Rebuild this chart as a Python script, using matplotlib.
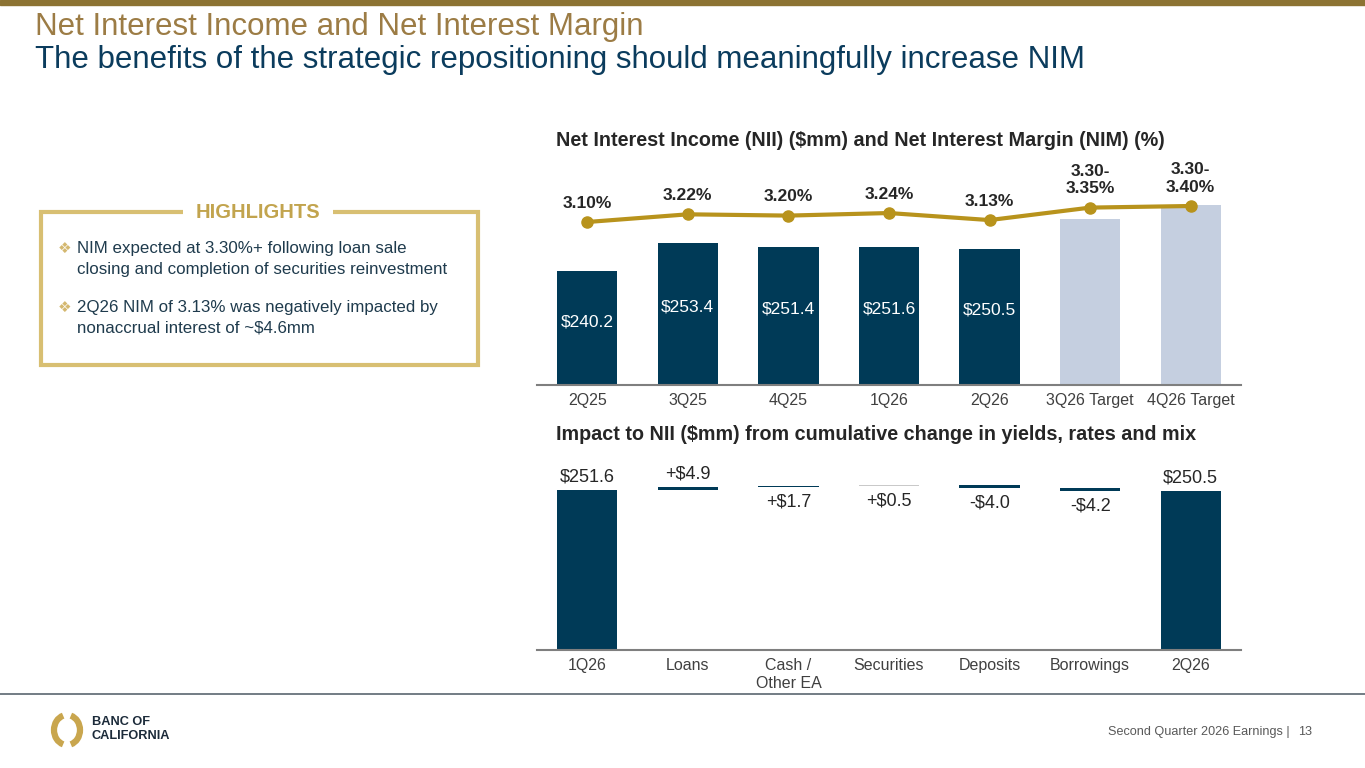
import numpy as np
import matplotlib.pyplot as plt
from matplotlib.patches import Rectangle, Arc

plt.rcParams['font.family'] = ['Liberation Sans', 'DejaVu Sans']

# Data
quarters = ['2Q25', '3Q25', '4Q25', '1Q26', '2Q26', '3Q26 Target', '4Q26 Target']
nii = [240.2, 253.4, 251.4, 251.6, 250.5, 264.7, 271.3]      # targets
nii_labels = ['$240.2', '$253.4', '$251.4', '$251.6', '$250.5', '', '']
nim = [3.10, 3.22, 3.20, 3.24, 3.13, 3.325, 3.35]           # targets drawn at midpoint of range
nim_labels = ['3.10%', '3.22%', '3.20%', '3.24%', '3.13%', '3.30-\n3.35%', '3.30-\n3.40%']
is_target = [False, False, False, False, False, True, True]

wf_cats = ['1Q26', 'Loans', 'Cash /\nOther EA', 'Securities', 'Deposits', 'Borrowings', '2Q26']
wf_start = 251.6
wf_deltas = [4.9, 1.7, 0.5, -4.0, -4.2]
wf_end = 250.5
wf_labels = ['$251.6', '+$4.9', '+$1.7', '+$0.5', '-$4.0', '-$4.2', '$250.5']

NAVY = '#003A57'
LIGHT = '#C5CFE0'
GOLD_LINE = '#B8931C'
TITLE_GOLD = '#9C7C45'
BOX_GOLD = '#D8BF72'
TXT = '#262626'

W, H = 1365, 768
fig = plt.figure(figsize=(W / 100, H / 100), dpi=100)


def fx(x):
    return x / W


def fy(y):
    return 1 - y / H


# top gold band and footer rule
fig.patches.append(Rectangle((0, fy(5)), 1, 5 / H, transform=fig.transFigure,
                             color='#8C7333', zorder=5))
fig.add_artist(plt.Line2D([0, 1], [fy(694), fy(694)], color='#5A6670', lw=1.2))

# titles
fig.text(fx(35), fy(27), 'Net Interest Income and Net Interest Margin', fontsize=22.5,
         color=TITLE_GOLD, va='center')
fig.text(fx(35), fy(60), 'The benefits of the strategic repositioning should meaningfully increase NIM',
         fontsize=22.5, color='#0B3C5D', va='center')

# ---- top chart: NII bars + NIM line ----
ax = fig.add_axes([fx(537), fy(385), fx(704), 235 / H])
x = np.arange(len(quarters))
colors = [LIGHT if t else NAVY for t in is_target]
ax.bar(x, nii, width=0.6, color=colors, zorder=2)
ybot = 186.4
ax.set_ylim(ybot, 297.2)
ax.set_xlim(-0.5, len(quarters) - 0.5)
for xi, v, lab in zip(x, nii, nii_labels):
    if lab:
        ax.text(xi, ybot + 0.55 * (v - ybot), lab, ha='center', va='center',
                color='white', fontsize=12.5)
for s in ['top', 'left', 'right']:
    ax.spines[s].set_visible(False)
ax.spines['bottom'].set_color('#7F7F7F')
ax.spines['bottom'].set_linewidth(1.5)
ax.set_yticks([])
ax.set_xticks(x)
ax.set_xticklabels(quarters, fontsize=11.5, color='#404040')
ax.tick_params(axis='x', length=0, pad=6)

ax2 = ax.twinx()
ax2.plot(x, nim, color=GOLD_LINE, lw=3, marker='o', ms=8, zorder=3)
ax2.set_ylim(0.553, 4.225)
ax2.set_yticks([])
for s in ax2.spines.values():
    s.set_visible(False)
for xi, v, lab in zip(x, nim, nim_labels):
    ax2.annotate(lab, (xi, v), xytext=(0, 8), textcoords='offset points',
                 ha='center', va='bottom', fontsize=12.5, fontweight='bold', color=TXT)

fig.text(fx(556), fy(140), 'Net Interest Income (NII) ($mm) and Net Interest Margin (NIM) (%)',
         fontsize=14.2, fontweight='bold', color=TXT, va='center')

# ---- bottom chart: waterfall ----
bx = fig.add_axes([fx(537), fy(650), fx(704), 190 / H])
steps = np.cumsum([wf_start] + wf_deltas)
bottoms = [0] + [min(steps[i], steps[i + 1]) for i in range(len(wf_deltas))] + [0]
heights = [wf_start] + [abs(d) for d in wf_deltas] + [wf_end]
wf_colors = [NAVY, NAVY, NAVY, '#C9C9C9', NAVY, NAVY, NAVY]
xw = np.arange(len(wf_cats))
bx.bar(xw, heights, bottom=bottoms, width=0.6, color=wf_colors)
bx.set_ylim(0, 298.7)
bx.set_xlim(-0.5, len(wf_cats) - 0.5)
place = ['above', 'above', 'below', 'below', 'below', 'below', 'above']
for xi, b, h, lab, p in zip(xw, bottoms, heights, wf_labels, place):
    if p == 'above':
        bx.annotate(lab, (xi, b + h), xytext=(0, 3), textcoords='offset points',
                    ha='center', va='bottom', fontsize=13, color=TXT)
    else:
        bx.annotate(lab, (xi, b), xytext=(0, -5), textcoords='offset points',
                    ha='center', va='top', fontsize=13, color=TXT)
for s in ['top', 'left', 'right']:
    bx.spines[s].set_visible(False)
bx.spines['bottom'].set_color('#7F7F7F')
bx.spines['bottom'].set_linewidth(1.5)
bx.set_yticks([])
bx.set_xticks(xw)
bx.set_xticklabels(wf_cats, fontsize=11.5, color='#404040', linespacing=1.2)
bx.tick_params(axis='x', length=0, pad=6)

fig.text(fx(556), fy(435), 'Impact to NII ($mm) from cumulative change in yields, rates and mix',
         fontsize=14.2, fontweight='bold', color=TXT, va='center')

# ---- highlights box ----
fig.patches.append(Rectangle((fx(41), fy(365)), fx(437), 153 / H, transform=fig.transFigure,
                             fill=False, edgecolor=BOX_GOLD, lw=3))
fig.text(fx(258), fy(212), 'HIGHLIGHTS', fontsize=14.5, fontweight='bold', color='#C2A44E',
         ha='center', va='center',
         bbox=dict(facecolor='white', edgecolor='none', pad=9))
bullets = ['NIM expected at 3.30%+ following loan sale\nclosing and completion of securities reinvestment',
           '2Q26 NIM of 3.13% was negatively impacted by\nnonaccrual interest of ~$4.6mm']
for yb, ys, txt in zip([259, 318], [248, 307], bullets):
    fig.text(fx(58), fy(ys), '\u2756', fontsize=11, color='#D4B870',
             va='center', family=['DejaVu Sans'])
    fig.text(fx(77), fy(yb), txt, fontsize=12.2, color='#1F3B4D', va='center', linespacing=1.5)

# ---- footer ----
fig.text(fx(1290), fy(732), 'Second Quarter 2026 Earnings |', fontsize=9.1, color='#595959',
         ha='right', va='center')
fig.text(fx(1298), fy(732), '13', fontsize=9.1, color='#595959', ha='left', va='center')

lx = fig.add_axes([fx(48), fy(749), fx(38), 38 / H])
lx.set_xlim(-19, 19)
lx.set_ylim(-19, 19)
lx.set_aspect('equal')
lx.axis('off')
lx.add_patch(Arc((0, 0), 26, 30, theta1=105, theta2=255, color='#C9A64E', lw=4.5))
lx.add_patch(Arc((0, 0), 26, 30, theta1=-75, theta2=75, color='#C9A64E', lw=4.5))
fig.text(fx(92), fy(729), 'BANC OF\nCALIFORNIA', fontsize=9.2, fontweight='bold',
         color='#1C2B3A', va='center', linespacing=1.15)

fig.savefig('out.png', dpi=100)
